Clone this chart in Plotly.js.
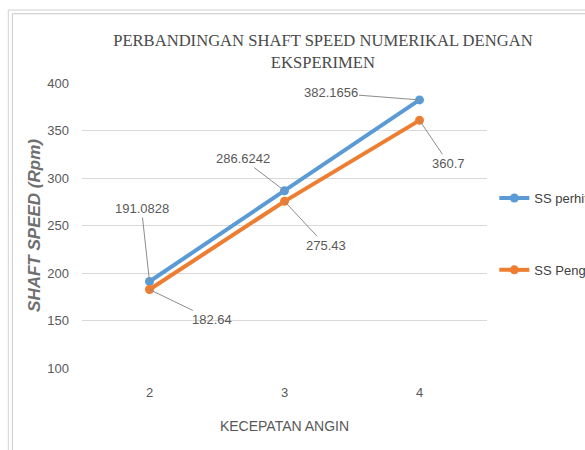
<!DOCTYPE html>
<html>
<head>
<meta charset="utf-8">
<script src="https://cdn.plot.ly/plotly-3.0.1.min.js"></script>
<style>html,body{margin:0;padding:0;background:#fff;}#chart{width:585px;height:450px;}</style>
</head>
<body>
<div id="chart"></div>
<script>
var categories = ["2", "3", "4"];
var seriesNames = ["SS perhitungan", "SS Pengujian"];
var ssPerhitungan = [191.0828, 286.6242, 382.1656];
var ssPengujian = [182.64, 275.43, 360.7];
var yTicks = [100, 150, 200, 250, 300, 350, 400];
var titleText = "PERBANDINGAN SHAFT SPEED NUMERIKAL DENGAN<br>EKSPERIMEN";
var xTitle = "KECEPATAN ANGIN";
var yTitle = "SHAFT SPEED (Rpm)";

var blue = "#5B9BD5", orange = "#ED7D31";
var sans = "Liberation Sans, Arial, sans-serif";
var tickFont = {family: sans, size: 13, color: "#595959"};

var traces = [
  {x: categories, y: ssPerhitungan, name: seriesNames[0], legendgroup: "a", type: "scatter", mode: "lines+markers",
   line: {color: blue, width: 4}, marker: {color: blue, size: 9}},
  {x: categories, y: ssPengujian, name: seriesNames[1], legendgroup: "b", type: "scatter", mode: "lines+markers",
   line: {color: orange, width: 4}, marker: {color: orange, size: 9}}
];

// label offsets (pixels) for leader-line annotations
var offBlue = [[-8, -73], [-42, -32], [-89, -7]];
var offOrange = [[62, 30], [41, 44], [29, 43]];
var annotations = [];
function addLabels(vals, offs) {
  vals.forEach(function (v, i) {
    annotations.push({x: i, y: v, xref: "x", yref: "y", text: String(v),
      showarrow: true, arrowhead: 0, arrowwidth: 1, arrowcolor: "#8c8c8c",
      ax: offs[i][0], ay: offs[i][1], standoff: 0,
      font: tickFont, borderpad: 1});
  });
}
addLabels(ssPerhitungan, offBlue);
addLabels(ssPengujian, offOrange);

var lineC = "#c8c8c8";
var shapes = [
  {type: "line", xref: "paper", yref: "paper", x0: -0.182, x1: 1.3, y0: 1.256, y1: 1.256, line: {color: "#d0d0d0", width: 1}},
  {type: "line", xref: "paper", yref: "paper", x0: -0.172, x1: 1.3, y0: 1.243, y1: 1.243, line: {color: lineC, width: 1}},
  {type: "line", xref: "paper", yref: "paper", x0: -0.182, x1: -0.182, y0: -0.3, y1: 1.256, line: {color: "#d0d0d0", width: 1}},
  {type: "line", xref: "paper", yref: "paper", x0: -0.172, x1: -0.172, y0: -0.3, y1: 1.243, line: {color: lineC, width: 1}}
];

var layout = {
  width: 585, height: 450,
  margin: {l: 82, r: 98, t: 83, b: 82, autoexpand: false},
  paper_bgcolor: "#ffffff", plot_bgcolor: "#ffffff",
  title: {text: titleText, x: 0.552, xanchor: "center", y: 0.897, yanchor: "top",
    font: {family: "Liberation Serif, Times New Roman, serif", size: 16.6, color: "#4a4a4a"}},
  xaxis: {type: "category", range: [-0.5, 2.5], showgrid: false, zeroline: false, showline: false,
    ticks: "", tickfont: tickFont, ticklabelstandoff: 15,
    title: {text: xTitle, font: {family: sans, size: 14, color: "#595959"}, standoff: 22}},
  yaxis: {range: [100, 400], tickvals: yTicks, showgrid: true, gridcolor: "#d9d9d9", gridwidth: 1,
    zeroline: false, showline: false, ticks: "", tickfont: tickFont, ticklabelstandoff: 12,
    title: {text: "<b><i>" + yTitle + "</i></b>", font: {family: sans, size: 17, color: "#707070"}, standoff: 2}},
  legend: {xref: "container", yref: "container", x: 0.845, xanchor: "left", y: 0.48, yanchor: "middle",
    tracegroupgap: 52,
    font: {family: sans, size: 13, color: "#404040"},
    itemwidth: 30, bgcolor: "rgba(0,0,0,0)"},
  showlegend: true,
  annotations: annotations,
  shapes: shapes
};

Plotly.newPlot("chart", traces, layout, {displayModeBar: false, staticPlot: true});
</script>
</body>
</html>
